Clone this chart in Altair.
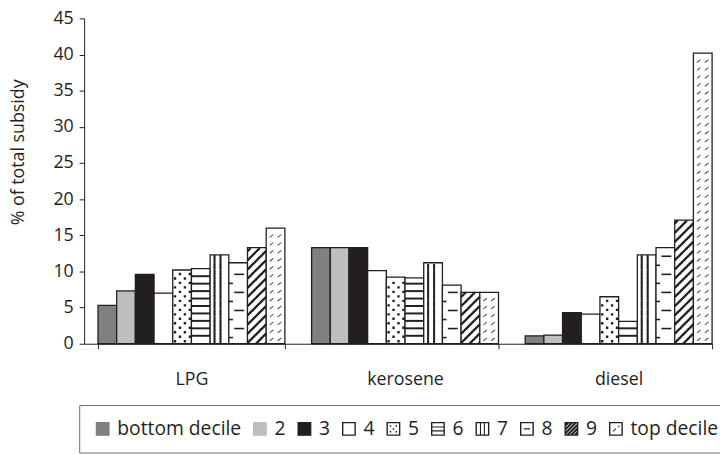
import json
import math
import altair as alt
import pandas as pd

# ---------------- data ----------------
categories = ["LPG", "kerosene", "diesel"]
deciles = ["bottom decile", "2", "3", "4", "5", "6", "7", "8", "9", "top decile"]
lpg = [5.3, 7.3, 9.6, 7.0, 10.2, 10.4, 12.3, 11.2, 13.3, 16.0]
kerosene = [13.3, 13.3, 13.3, 10.1, 9.2, 9.1, 11.2, 8.1, 7.1, 7.1]
diesel = [1.1, 1.2, 4.3, 4.1, 6.5, 3.1, 12.3, 13.3, 17.1, 40.2]
y_ticks = [0, 5, 10, 15, 20, 25, 30, 35, 40, 45]
fills = ["#808080", "#bcbec0", "#231f20", "#ffffff", "#ffffff",
         "#ffffff", "#ffffff", "#ffffff", "#ffffff", "#ffffff"]
legend_fills = ["#808080", "#bcbec0", "#231f20", "#231f20", "#231f20",
                "#231f20", "#231f20", "#231f20", "#231f20", "#231f20"]

rows = []
for cat, vals in zip(categories, [lpg, kerosene, diesel]):
    for d, v, f in zip(deciles, vals, fills):
        rows.append({"cat": cat, "decile": d, "value": v, "fillc": f})
df = pd.DataFrame(rows)

# ---------------- layout / style ----------------
INK = "#231f20"
FONT = "Open Sans"
PLOT_W, PLOT_H = 635, 329
Y_MAX = 45
PAD_IN = 0.125
PAD_OUT = 0.0324
STEP = PLOT_W / (3 - PAD_IN + 2 * PAD_OUT)
BAR_W = STEP * (1 - PAD_IN) / 10
HALF = BAR_W / 2                 # 1 normalised symbol unit in px
PXU = PLOT_H / Y_MAX             # px per data unit
SIZE = BAR_W ** 2
NBSP = "\u00a0"


def n(v):
    return f"{v:.3f}"


def to_norm(units):
    return units * PXU / HALF


x_axis = alt.Axis(title=None, labelAngle=0, tickBand="extent", tickSize=5,
                  labelPadding=22, labelFontSize=18, labelColor=INK,
                  domainColor=INK, tickColor=INK, labelFont=FONT,
                  labelExpr=f"datum.label == 'LPG' ? '{NBSP * 3}LPG' : datum.label")
y_axis = alt.Axis(values=y_ticks, title="% of total subsidy", grid=False,
                  tickSize=5, labelPadding=6, labelFontSize=18, labelColor=INK,
                  domainColor=INK, tickColor=INK, titleFontSize=18,
                  titleFontWeight="normal", titleColor=INK, titleFont=FONT,
                  labelFont=FONT, titleX=-61, titleY=135, titleAngle=270,
                  titleBaseline="alphabetic", titleAlign="center")

XENC = alt.X("cat:N", scale=alt.Scale(domain=categories, paddingInner=PAD_IN,
                                      paddingOuter=PAD_OUT, align=1), axis=x_axis)
XO = alt.XOffset("decile:N", scale=alt.Scale(domain=deciles, paddingInner=0, paddingOuter=0))
YSCALE = alt.Scale(domain=[0, Y_MAX], nice=False, zero=True)

bars = alt.Chart(df).mark_bar(stroke=INK, strokeWidth=1.3).encode(
    x=XENC,
    xOffset=XO,
    y=alt.Y("value:Q", scale=YSCALE, axis=y_axis),
    fill=alt.Fill("fillc:N", scale=None),
)


def strip_layer(decile, shapes, start, step, margin, stroke_width=1.5,
                filled=False, color=INK):
    ch = (alt.Chart(df)
          .transform_filter(alt.datum.decile == decile)
          .transform_calculate(ys=f"sequence({start}, datum.value - {margin}, {step})")
          .transform_flatten(["ys"]))
    if len(shapes) > 1:
        ch = ch.transform_calculate(
            shp=f"{json.dumps(shapes)}[floor((datum.ys - {start}) / {step} + 0.5) % {len(shapes)}]")
        shape = alt.Shape("shp:N", scale=None)
    else:
        shape = alt.value(shapes[0])
    if filled:
        mark = ch.mark_point(size=SIZE, opacity=1, filled=True, fill=color, strokeWidth=0)
    else:
        mark = ch.mark_point(size=SIZE, opacity=1, filled=False, stroke=color,
                             strokeWidth=stroke_width, strokeCap="butt")
    return mark.encode(x=XENC, xOffset=XO,
                       y=alt.Y("ys:Q", scale=YSCALE, axis=y_axis), shape=shape)


def dot_row(xs, side_px=2.4):
    h = side_px / HALF / 2
    return "".join(f"M{n(x - h)},{n(-h)}L{n(x + h)},{n(-h)}L{n(x + h)},{n(h)}L{n(x - h)},{n(h)}Z"
                   for x in xs)


def diag_paths(spacing_units, k, phases, overlap=1.15):
    S = to_norm(spacing_units)
    H = S / phases
    hh = H / 2 * overlap
    d = S / k
    out = []
    for p in range(phases):
        shift = p * H / k
        segs = []
        for j in range(-12, 13):
            c = shift + j * d
            x1, y1 = c - hh / k, hh
            x2, y2 = c + hh / k, -hh
            if x2 < -1 or x1 > 1:
                continue
            if x1 < -1:
                x1, y1 = -1, -k * (-1 - c)
            if x2 > 1:
                x2, y2 = 1, -k * (1 - c)
            segs.append(f"M{n(x1)},{n(y1)}L{n(x2)},{n(y2)}")
        out.append("".join(segs))
    return out


# decile 5: staggered dots
dots = strip_layer("5", [dot_row([-0.76, 0.30]), dot_row([-0.23, 0.83])],
                   0.35, 0.62, 0.25, filled=True)
# decile 6: horizontal stripes
hstripes = strip_layer("6", ["M-1,0L1,0"], 1.1, 1.03, 0.5, stroke_width=2)
# decile 7: vertical lines
vh = to_norm(0.125) * 1.25
vstripes = strip_layer("7", [f"M-0.53,{n(-vh)}L-0.53,{n(vh)}M0.11,{n(-vh)}L0.11,{n(vh)}"],
                       0.125, 0.25, 0.1, stroke_width=2)
# decile 8: dashes
dash_c = strip_layer("8", ["M-0.42,0L0.64,0"], 2.1, 2.5, 0.5, stroke_width=1.6)
dash_l = strip_layer("8", ["M-1,0L-0.56,0"], 0.85, 2.5, 0.5, stroke_width=1.6)
# decile 9: heavy diagonals
diag = strip_layer("9", diag_paths(1.27, 1.0, 5), 0.127, 0.254, 0.1, stroke_width=2.3)
# top decile: light dashed diagonals
light = strip_layer("top decile", ["M-0.62,0.15L-0.24,-0.15M0.22,0.15L0.62,-0.15"],
                    0.6, 1.1, 0.4, stroke_width=1.1, color="#555555")


# ---------------- legend icons (filled outlines, no stroke needed) ----------------
def area(pts):
    return sum(pts[i][0] * pts[(i + 1) % len(pts)][1] - pts[(i + 1) % len(pts)][0] * pts[i][1]
               for i in range(len(pts)))


def poly(pts, hole=False):
    if not pts:
        return ""
    a = area(pts)
    if (a > 0) == hole:
        pts = pts[::-1]
    return "M" + "L".join(f"{n(x)},{n(y)}" for x, y in pts) + "Z"


def clip_box(pts, lo, hi):
    def clip(pts, inside, inter):
        out = []
        for i in range(len(pts)):
            cur, prev = pts[i], pts[i - 1]
            if inside(cur):
                if not inside(prev):
                    out.append(inter(prev, cur))
                out.append(cur)
            elif inside(prev):
                out.append(inter(prev, cur))
        return out

    def ix(v):
        return lambda p, q: (v, p[1] + (q[1] - p[1]) * (v - p[0]) / (q[0] - p[0]))

    def iy(v):
        return lambda p, q: (p[0] + (q[0] - p[0]) * (v - p[1]) / (q[1] - p[1]), v)

    for inside, inter in [(lambda p: p[0] >= lo, ix(lo)), (lambda p: p[0] <= hi, ix(hi)),
                          (lambda p: p[1] >= lo, iy(lo)), (lambda p: p[1] <= hi, iy(hi))]:
        if not pts:
            return []
        pts = clip(pts, inside, inter)
    return pts


def rect(x0, y0, x1, y1):
    return [(x0, y0), (x1, y0), (x1, y1), (x0, y1)]


def band(cx, cy, length, width):
    ux, uy = 1 / math.sqrt(2), -1 / math.sqrt(2)
    vx, vy = 1 / math.sqrt(2), 1 / math.sqrt(2)
    L, W = length / 2, width / 2
    return [(cx - L * ux - W * vx, cy - L * uy - W * vy), (cx + L * ux - W * vx, cy + L * uy - W * vy),
            (cx + L * ux + W * vx, cy + L * uy + W * vy), (cx - L * ux + W * vx, cy - L * uy + W * vy)]


IN = 0.8
FULL = poly(rect(-1, -1, 1, 1))
FRAME = FULL + poly(rect(-IN, -IN, IN, IN), hole=True)
icon_dots = FRAME + "".join(poly(rect(x - 0.11, y - 0.11, x + 0.11, y + 0.11))
                            for x, y in [(-0.42, -0.42), (0.42, -0.42), (0, 0), (-0.42, 0.42), (0.42, 0.42)])
icon_h = FRAME + poly(rect(-IN, -0.36, IN, -0.2)) + poly(rect(-IN, 0.2, IN, 0.36))
icon_v = FRAME + poly(rect(-0.36, -IN, -0.2, IN)) + poly(rect(0.2, -IN, 0.36, IN))
icon_dash = FRAME + poly(rect(-0.45, -0.08, 0.45, 0.08))
icon_diag = FRAME + "".join(poly(clip_box(band(c, 0, 4, 0.3), -IN, IN))
                            for c in [-1.35, -0.8, -0.25, 0.3, 0.85, 1.4])
icon_light = FRAME + poly(clip_box(band(-0.2, 0.15, 0.6, 0.14), -IN, IN)) + \
    poly(clip_box(band(0.4, -0.35, 0.3, 0.14), -IN, IN))
icons = [FULL, FULL, FULL, FRAME, icon_dots, icon_h, icon_v, icon_dash, icon_diag, icon_light]

leg = alt.Legend(title=None, orient="none", legendX=-5, legendY=391,
                 direction="horizontal", columns=10, symbolStrokeWidth=0, symbolOpacity=1)
legend_layer = alt.Chart(df).mark_point(filled=True, opacity=0, size=10, strokeWidth=0).encode(
    x=XENC, xOffset=XO,
    y=alt.Y("value:Q", scale=YSCALE, axis=y_axis),
    shape=alt.Shape("decile:N", scale=alt.Scale(domain=deciles, range=icons), legend=leg),
    fill=alt.Fill("decile:N", scale=alt.Scale(domain=deciles, range=legend_fills), legend=leg),
)

chart = alt.layer(bars, dots, hstripes, vstripes, dash_c, dash_l, diag, light,
                  legend_layer).properties(
    width=PLOT_W, height=PLOT_H,
    autosize=alt.AutoSizeParams(type="none"),
    padding={"left": 77, "top": 8, "right": 8, "bottom": 110},
).configure(font=FONT).configure_view(stroke=None).configure_legend(
    labelFont=FONT, labelFontSize=19.5, labelColor=INK, symbolSize=196,
    symbolStrokeWidth=0, symbolOpacity=1,
    strokeColor="#6d6e71", padding=14, columnPadding=9.0, labelOffset=5,
)

chart.save("out.html", embed_options={"renderer": "svg", "actions": False})
